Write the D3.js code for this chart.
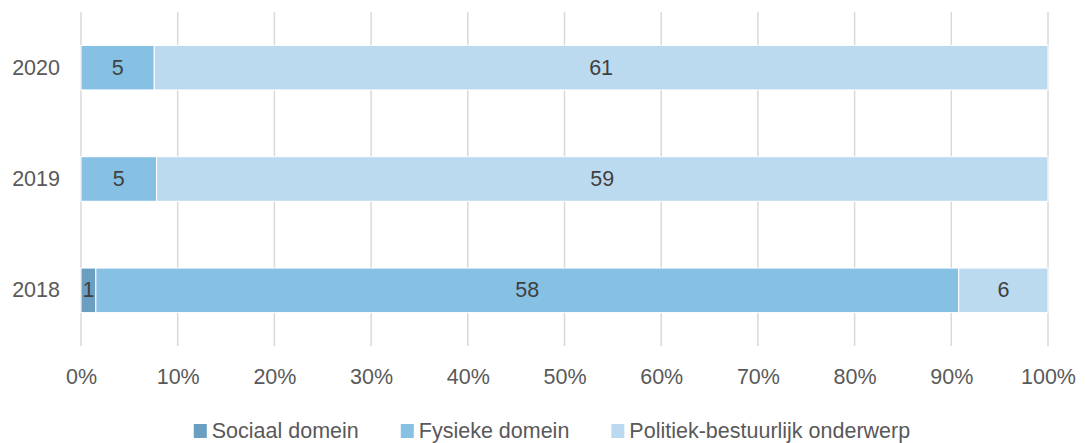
<!DOCTYPE html>
<html>
<head>
<meta charset="utf-8">
<script src="https://cdn.jsdelivr.net/npm/d3@7"></script>
<style>
  body { margin: 0; background: #fff; }
  text { font-family: "Liberation Sans", Arial, sans-serif; }
</style>
</head>
<body>
<div id="chart"></div>
<script>
const years = ["2020", "2019", "2018"];
const seriesNames = ["Sociaal domein", "Fysieke domein", "Politiek-bestuurlijk onderwerp"];
const sociaal = [0, 0, 1];
const fysieke = [5, 5, 58];
const politiek = [61, 59, 6];
const tickLabels = ["0%", "10%", "20%", "30%", "40%", "50%", "60%", "70%", "80%", "90%", "100%"];
const colors = ["#6a9fc1", "#86c1e4", "#bcdaef"];

const width = 1085;
const height = 443;
const margin = { top: 12, right: 37, bottom: 97, left: 81 };
const fontSize = 21.5;

const rows = years.map((y, i) => ({
  year: y,
  values: [sociaal[i], fysieke[i], politiek[i]]
}));

const svg = d3
  .select("#chart")
  .append("svg")
  .attr("width", width)
  .attr("height", height);

const x = d3
  .scaleLinear()
  .domain([0, 1])
  .range([margin.left, width - margin.right]);

const y = d3
  .scaleBand()
  .domain(years)
  .range([margin.top, height - margin.bottom])
  .paddingInner(0.6)
  .paddingOuter(0.3);

// gridlines
svg
  .append("g")
  .selectAll("line")
  .data(d3.range(0, 1.0001, 0.1))
  .enter()
  .append("line")
  .attr("x1", (d) => x(d))
  .attr("x2", (d) => x(d))
  .attr("y1", margin.top)
  .attr("y2", height - margin.bottom)
  .style("stroke", "#d9d9d9")
  .style("stroke-width", "1.5px");

// x axis tick labels
const xAxis = d3
  .axisBottom(x)
  .tickValues(d3.range(0, 1.0001, 0.1))
  .tickFormat((d, i) => tickLabels[i])
  .tickSize(0)
  .tickPadding(0);

const gx = svg
  .append("g")
  .attr("transform", `translate(0, ${height - margin.bottom + 23})`)
  .call(xAxis);
gx.select(".domain").remove();
gx.selectAll("text")
  .attr("font-size", fontSize)
  .attr("fill", "#595959")
  .attr("font-family", '"Liberation Sans", Arial, sans-serif');

// y axis labels
const yAxis = d3.axisLeft(y).tickSize(0).tickPadding(0);
const gy = svg
  .append("g")
  .attr("transform", `translate(${margin.left - 21}, 0)`)
  .call(yAxis);
gy.select(".domain").remove();
gy.selectAll("text")
  .attr("font-size", fontSize)
  .attr("fill", "#595959")
  .attr("font-family", '"Liberation Sans", Arial, sans-serif');

// stacked segments
const segments = [];
rows.forEach((r) => {
  const total = d3.sum(r.values);
  let acc = 0;
  r.values.forEach((v, k) => {
    segments.push({ year: r.year, k: k, v: v, x0: acc / total, x1: (acc + v) / total });
    acc += v;
  });
});

const bars = svg.append("g");
bars
  .selectAll("rect")
  .data(segments.filter((d) => d.v > 0))
  .enter()
  .append("rect")
  .attr("x", (d) => x(d.x0))
  .attr("width", (d) => x(d.x1) - x(d.x0))
  .attr("y", (d) => y(d.year))
  .attr("height", y.bandwidth())
  .style("fill", (d) => colors[d.k])
  .style("stroke", "#fff")
  .style("stroke-width", "1px");

bars
  .selectAll("text")
  .data(segments.filter((d) => d.v > 0))
  .enter()
  .append("text")
  .attr("x", (d) => (x(d.x0) + x(d.x1)) / 2)
  .attr("y", (d) => y(d.year) + y.bandwidth() / 2)
  .attr("text-anchor", "middle")
  .attr("dominant-baseline", "central")
  .attr("font-size", fontSize)
  .attr("fill", "#404040")
  .text((d) => d.v);

// legend
const legend = svg.append("g").attr("transform", `translate(0, 438)`);
const items = legend
  .selectAll("g")
  .data(seriesNames)
  .enter()
  .append("g");
items
  .append("rect")
  .attr("y", -14)
  .attr("width", 13)
  .attr("height", 14)
  .style("fill", (d, i) => colors[i]);
items
  .append("text")
  .attr("x", 18)
  .attr("y", 0)
  .attr("font-size", fontSize)
  .attr("fill", "#595959")
  .text((d) => d);

const gap = 42;
let lx = 0;
const offsets = [];
items.each(function () {
  offsets.push(lx);
  lx += this.getBBox().width + gap;
});
lx -= gap;
const start = 552 - lx / 2;
items.attr("transform", (d, i) => `translate(${start + offsets[i]}, 0)`);
</script>
</body>
</html>
